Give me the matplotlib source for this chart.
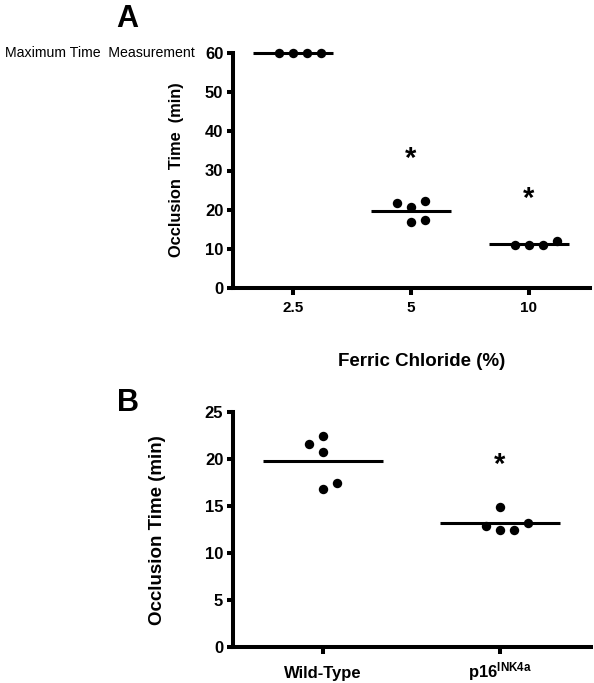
import numpy as np
import matplotlib
matplotlib.use("Agg")
import matplotlib.pyplot as plt
from matplotlib import font_manager

# ---- data ----
conc_labels = ["2.5", "5", "10"]
occl_2_5 = [60, 60, 60, 60]
occl_5 = [21.6, 20.6, 22.2, 16.8, 17.4]
occl_10 = [11.1, 10.9, 11.1, 12.1]

geno_labels = ["Wild-Type", r"$\mathbf{p16^{INK4a}}$"]
occl_wt = [21.6, 22.4, 20.7, 16.8, 17.5]
occl_p16 = [14.9, 12.9, 12.4, 12.5, 13.2]

# horizontal slot of each dot inside its column (column-scatter layout)
slots_a = [[-1, 0, 1, 2], [-1, 0, 1, 0, 1], [-1, 0, 1, 2]]
slots_b = [[-1, 0, 0, 0, 1], [0, -1, 0, 1, 2]]
sig_a = [False, True, True]
sig_b = [False, True]

# ---- fonts ----
installed = {f.name for f in font_manager.fontManager.ttflist}
REG = "Liberation Sans" if "Liberation Sans" in installed else "DejaVu Sans"
plt.rcParams["font.family"] = [REG, "DejaVu Sans"]
plt.rcParams["mathtext.fontset"] = "custom"
plt.rcParams["mathtext.bf"] = f"{REG}:bold"
plt.rcParams["mathtext.rm"] = REG

W, H = 594, 683
DPI = 100
fig = plt.figure(figsize=(W / DPI, H / DPI), dpi=DPI)


def px_axes(l, t, r, b):
    return fig.add_axes([l / W, 1 - b / H, (r - l) / W, (b - t) / H])


SPINE_W = 2.9
DOT_STEP_PX = 14


def style_axes(ax):
    for s in ("top", "right"):
        ax.spines[s].set_visible(False)
    for s in ("left", "bottom"):
        ax.spines[s].set_linewidth(SPINE_W)
        ax.spines[s].set_capstyle("projecting")
    ax.tick_params(axis="both", direction="out", width=SPINE_W, color="black")
    ax.tick_params(axis="y", length=4.5, pad=2.5)
    ax.tick_params(axis="x", length=5.0)


def draw_columns(ax, groups, slots, sig, axes_w_px):
    x0, x1 = ax.get_xlim()
    step = DOT_STEP_PX * (x1 - x0) / axes_w_px
    for i, (vals, sl) in enumerate(zip(groups, slots)):
        xs = i + np.array(sl) * step
        ax.scatter(xs, vals, s=46, color="black", zorder=4, clip_on=False,
                   linewidths=0)
        m = np.mean(vals)
        ax.plot([i - 0.34, i + 0.34], [m, m], color="black", lw=2.2,
                zorder=3, clip_on=False, solid_capstyle="butt")
        if sig[i]:
            ax.annotate("*", xy=(i, max(vals)), xytext=(0, 30),
                        textcoords="offset points", ha="center", va="center",
                        fontsize=21, fontweight="bold")


# ---- panel A ----
axA = px_axes(233, 53, 590, 288)
axA.set_xlim(-0.508, 2.517)
axA.set_ylim(0, 60)
style_axes(axA)
axA.set_yticks([0, 10, 20, 30, 40, 50, 60])
axA.set_xticks(range(len(conc_labels)))
axA.set_xticklabels(conc_labels, fontsize=11, fontweight="bold")
axA.tick_params(axis="x", pad=4)
for t in axA.get_yticklabels():
    t.set_fontweight("bold")
    t.set_fontsize(12)
draw_columns(axA, [occl_2_5, occl_5, occl_10], slots_a, sig_a, 357)

fig.text(127 / W, 1 - 19 / H, "A", fontsize=22, fontweight="bold",
         ha="center", va="center")
fig.text(195 / W, 1 - 53 / H, "Maximum Time  Measurement",
         fontsize=10.2, ha="right", va="center")
fig.text(177 / W, 1 - 170 / H, "Occlusion  Time  (min)", rotation=90,
         fontweight="bold", fontsize=11.8, ha="center", va="center")
fig.text(422 / W, 1 - 362 / H, "Ferric Chloride (%)", fontsize=13.5,
         fontweight="bold", ha="center", va="center")

# ---- panel B ----
axB = px_axes(233, 412, 591, 647)
axB.set_xlim(-0.508, 1.514)
axB.set_ylim(0, 25)
style_axes(axB)
axB.set_yticks([0, 5, 10, 15, 20, 25])
axB.set_xticks(range(len(geno_labels)))
axB.set_xticklabels(geno_labels, fontsize=12, fontweight="bold")
axB.tick_params(axis="x", pad=17)
for t in axB.get_xticklabels():
    t.set_verticalalignment("baseline")
for t in axB.get_yticklabels():
    t.set_fontweight("bold")
    t.set_fontsize(12)
draw_columns(axB, [occl_wt, occl_p16], slots_b, sig_b, 358)

fig.text(128 / W, 1 - 403 / H, "B", fontsize=22, fontweight="bold",
         ha="center", va="center")
fig.text(157 / W, 1 - 530 / H, "Occlusion Time (min)", rotation=90,
         fontweight="bold", fontsize=13.5, ha="center", va="center")

fig.savefig("out.png", dpi=DPI, facecolor="white")
